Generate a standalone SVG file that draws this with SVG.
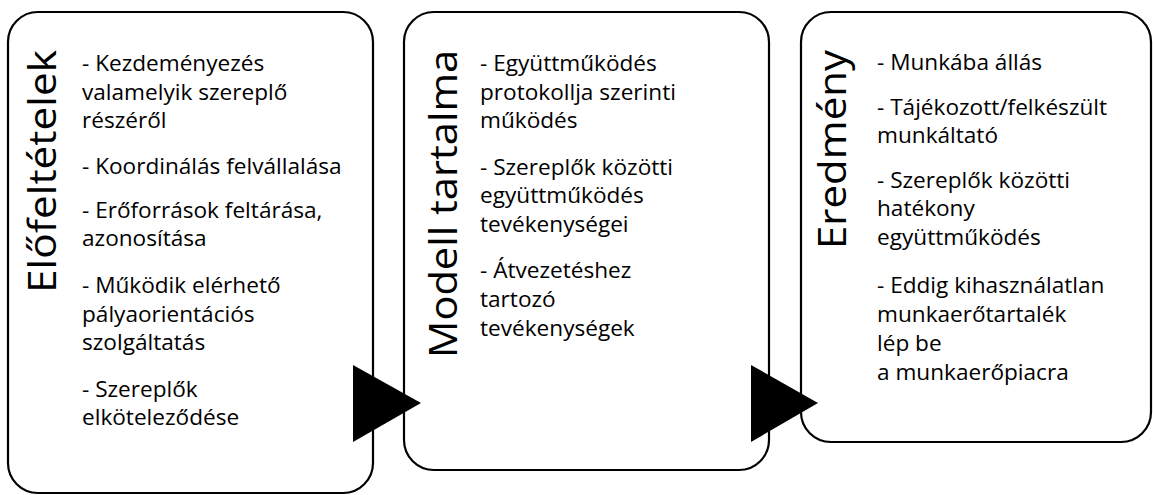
<svg xmlns="http://www.w3.org/2000/svg" width="1153" height="495" viewBox="0 0 1153 495">
<style>
.box{fill:#fff;stroke:#000;stroke-width:2.2}
.title{font-family:"Open Sans","Liberation Sans",sans-serif;font-size:38px;fill:#000}
.body{font-family:"Open Sans","Liberation Sans",sans-serif;font-size:22.6px;fill:#000}
.arrow{fill:#000}
</style>
<rect width="1153" height="495" fill="#fff"/>
<g id="node-elofeltetelek">
<rect class="box" x="8" y="12" width="365" height="481" rx="30" ry="30"/>
<text class="title" transform="translate(56,293) rotate(-90)" textLength="243" lengthAdjust="spacingAndGlyphs">Előfeltételek</text>
<text class="body">
<tspan x="82" y="71">- Kezdeményezés</tspan>
<tspan x="82" y="100">valamelyik szereplő</tspan>
<tspan x="82" y="128">részéről</tspan>
<tspan x="82" y="174">- Koordinálás felvállalása</tspan>
<tspan x="82" y="218">- Erőforrások feltárása,</tspan>
<tspan x="82" y="246">azonosítása</tspan>
<tspan x="82" y="293">- Működik elérhető</tspan>
<tspan x="82" y="322">pályaorientációs</tspan>
<tspan x="82" y="350">szolgáltatás</tspan>
<tspan x="82" y="397">- Szereplők</tspan>
<tspan x="82" y="425">elköteleződése</tspan>
</text>
</g>
<g id="node-modell-tartalma">
<rect class="box" x="404" y="12" width="365" height="458" rx="30" ry="30"/>
<text class="title" transform="translate(457,358) rotate(-90)" textLength="308" lengthAdjust="spacingAndGlyphs">Modell tartalma</text>
<text class="body">
<tspan x="480" y="71">- Együttműködés</tspan>
<tspan x="480" y="100">protokollja szerinti</tspan>
<tspan x="480" y="128">működés</tspan>
<tspan x="480" y="175">- Szereplők közötti</tspan>
<tspan x="480" y="203">együttműködés</tspan>
<tspan x="480" y="232">tevékenységei</tspan>
<tspan x="480" y="278">- Átvezetéshez</tspan>
<tspan x="480" y="307">tartozó</tspan>
<tspan x="480" y="336">tevékenységek</tspan>
</text>
</g>
<g id="node-eredmeny">
<rect class="box" x="801" y="12" width="350" height="430" rx="30" ry="30"/>
<text class="title" transform="translate(846,249) rotate(-90)" textLength="199" lengthAdjust="spacingAndGlyphs">Eredmény</text>
<text class="body">
<tspan x="877" y="70">- Munkába állás</tspan>
<tspan x="877" y="115">- Tájékozott/felkészült</tspan>
<tspan x="877" y="143">munkáltató</tspan>
<tspan x="877" y="188">- Szereplők közötti</tspan>
<tspan x="877" y="216">hatékony</tspan>
<tspan x="877" y="245">együttműködés</tspan>
<tspan x="877" y="293">- Eddig kihasználatlan</tspan>
<tspan x="877" y="322">munkaerőtartalék</tspan>
<tspan x="877" y="351">lép be</tspan>
<tspan x="877" y="380">a munkaerőpiacra</tspan>
</text>
</g>
<g id="connectors">
<polygon class="arrow" points="353,365 353,442 421,403"/>
<polygon class="arrow" points="751,365 751,442 818,403"/>
</g>
</svg>
